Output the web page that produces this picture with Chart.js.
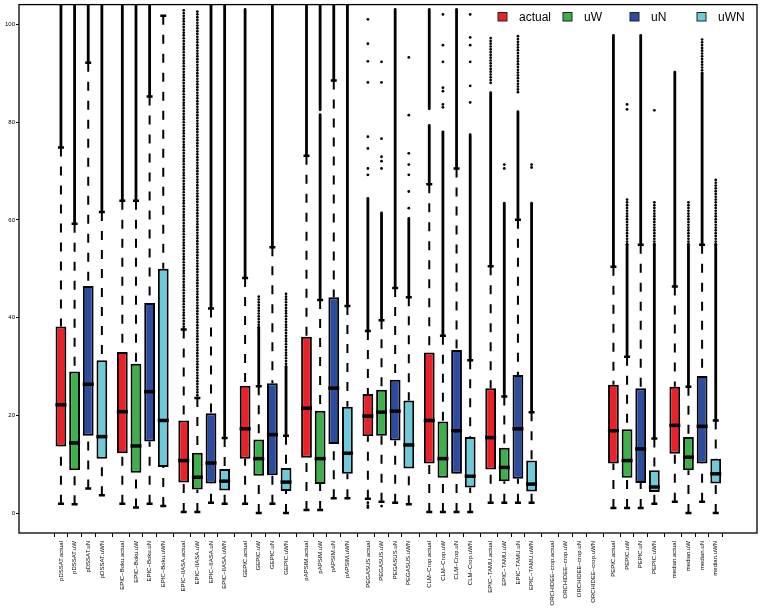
<!DOCTYPE html>
<html>
<head>
<meta charset="utf-8">
<script src="https://cdn.jsdelivr.net/npm/chart.js@4/dist/chart.umd.min.js"></script>
<style>
  html, body { margin: 0; padding: 0; background: #fff; }
  #wrap { width: 760px; height: 611px; position: relative; }
</style>
</head>
<body>
<div id="wrap"><canvas id="boxChart"></canvas></div>
<script>
// model groups and the four series
const groups = ['pDSSAT', 'EPIC\u2212Boku', 'EPIC\u2212IIASA', 'GEPIC', 'pAPSIM', 'PEGASUS',
  'CLM\u2212Crop', 'EPIC\u2212TAMU', 'ORCHIDEE\u2212crop', 'PEPIC', 'median'];
const seriesNames = ['actual', 'uW', 'uN', 'uWN'];
const seriesColors = ['#ec2027', '#3cb04a', '#2c4c9f', '#6ccadb'];
const yTicks = [0, 20, 40, 60, 80, 100];

// [lower whisker, q1, median, q3, upper whisker]
const actualBox = [[2.0, 13.7, 22.2, 38.2, 74.8], [2.0, 12.3, 20.8, 33.0, 63.9], [0.3, 6.3, 10.8, 19.0, 37.6],
  [2.0, 11.2, 17.3, 26.1, 48.1], [0.7, 11.4, 21.5, 36.1, 73.1], [3.0, 15.8, 19.9, 24.4, 37.3],
  [0.3, 10.2, 19.0, 32.9, 67.3], [2.2, 9.0, 15.5, 25.6, 50.5], null,
  [1.1, 10.2, 16.9, 26.3, 50.4], [2.4, 12.2, 18.0, 25.9, 46.4]];
const uWBox = [[1.9, 8.8, 14.4, 29.0, 59.2], [1.2, 8.3, 13.8, 30.6, 63.9], [0.3, 4.9, 7.4, 12.4, 23.6],
  [0.1, 7.7, 11.2, 15.1, 26.0], [0.7, 6.0, 11.2, 21.0, 43.6], [2.4, 15.9, 20.7, 25.3, 39.5],
  [0.3, 7.3, 11.2, 18.8, 36.3], [2.2, 6.6, 9.4, 13.4, 23.9], null,
  [1.1, 7.3, 10.8, 17.2, 32.0], [0.1, 8.8, 11.5, 15.6, 25.9]];
const uNBox = [[5.1, 15.9, 26.4, 46.5, 92.1], [2.0, 14.7, 24.9, 43.0, 85.2], [2.2, 6.1, 10.3, 20.5, 41.9],
  [2.0, 7.8, 16.1, 26.6, 54.4], [3.1, 14.2, 25.6, 44.2, 88.5], [2.2, 14.9, 20.9, 27.3, 46.1],
  [0.3, 8.1, 16.9, 33.4, 70.5], [2.2, 7.1, 17.3, 28.3, 60.0], null,
  [1.1, 6.2, 13.2, 25.6, 54.9], [2.4, 10.2, 17.8, 28.1, 54.9]];
const uWNBox = [[3.7, 11.2, 15.7, 31.3, 61.6], [1.5, 9.5, 19.0, 50.0, 101.7], [2.0, 4.7, 6.6, 9.1, 15.4],
  [0.1, 4.6, 6.4, 9.3, 15.9], [3.1, 8.1, 12.3, 21.8, 42.4], [1.9, 9.2, 14.0, 23.1, 44.2],
  [0.3, 5.3, 7.6, 15.6, 31.3], [2.2, 4.5, 6.0, 10.8, 20.7], null,
  [2.0, 4.4, 5.4, 8.8, 15.3], [0.1, 6.1, 8.1, 11.2, 19.0]];

// outliers: packed ranges, looser ranges, single points
const actualRuns = [[[74.8, 105]], [[63.9, 105]], [], [[48.1, 103]], [[73.1, 105]], [[37.3, 64.4]],
  [[67.3, 79.3], [82.7, 103]], [[50.5, 86]], [], [[50.4, 97.7]], [[46.4, 90.2]]];
const actualSparse = [[], [], [[37.6, 103]], [], [], [], [], [[88, 97.6]], [], [], []];
const actualPts = [[], [], [], [], [], [69.2, 70.5, 74.6, 77.0, 88.1, 92.4, 96.0, 101, 2.2, 1.6, 1.2],
  [], [], [], [], []];

const uWRuns = [[[59.2, 105]], [[63.9, 105]], [], [[26.0, 38]], [[43.6, 81.5], [82.5, 105]], [[39.5, 61.4]],
  [[36.3, 78]], [[23.9, 63.4]], [], [[32, 55]], [[25.9, 55]]];
const uWSparse = [[], [], [[23.6, 103]], [[38, 44.4]], [], [], [], [], [], [[55, 64.4]], [[55, 64.1]]];
const uWPts = [[], [], [], [], [], [70.5, 72, 72.9, 76.6, 88.1, 92.3, 1.5],
  [83, 83.6, 86.3, 87, 92.3, 95.7, 102], [70.5, 71.3], [], [82.6, 83.6], []];

const uNRuns = [[[92.1, 105]], [[85.2, 105]], [[41.9, 105]], [[54.4, 105]], [[88.5, 105]], [[46.1, 103]],
  [[70.5, 103]], [[60, 82.1]], [], [[54.9, 97.7]], [[54.9, 90]]];
const uNSparse = [[], [], [], [], [], [], [], [[86.1, 97.7]], [], [], [[90, 97]]];
const uNPts = [[], [], [], [], [], [], [], [], [], [], []];

const uWNRuns = [[[61.6, 105]], [], [[15.4, 105]], [[15.9, 30]], [[42.4, 105]], [[44.2, 60.3]],
  [[31.3, 77.4]], [[20.7, 63.4]], [], [[15.3, 55]], [[19, 55]]];
const uWNSparse = [[], [], [], [[30, 45.1]], [], [], [], [], [], [[55, 64.1]], [[55, 68.5]]];
const uWNPts = [[], [], [], [], [], [62.4, 65.8, 69.2, 71.3, 73.6, 81.4, 93.2],
  [84, 87.4, 92.3, 95.7, 97.3, 102], [70.7, 71.3], [], [82.4], []];

const boxes = [actualBox, uWBox, uNBox, uWNBox];
const runs = [actualRuns, uWRuns, uNRuns, uWNRuns];
const sparse = [actualSparse, uWSparse, uNSparse, uWNSparse];
const points = [actualPts, uWPts, uNPts, uWNPts];

const posOf = (g, k) => g * 4.5 + k;
const tickPositions = [];
const tickLabels = {};
groups.forEach((g, gi) => seriesNames.forEach((s, k) => {
  tickPositions.push(posOf(gi, k));
  tickLabels[posOf(gi, k)] = g + '.' + s;
}));

const FONT = "'Liberation Sans', Arial, sans-serif";

const boxParts = {
  id: 'boxParts',
  beforeDatasetsDraw(chart) {
    const { ctx, chartArea: a, scales: { x, y } } = chart;
    ctx.save();
    ctx.beginPath();
    ctx.rect(a.left, a.top, a.right - a.left, a.bottom - a.top);
    ctx.clip();
    ctx.strokeStyle = '#000';
    ctx.fillStyle = '#000';
    boxes.forEach((list, k) => {
      list.forEach((b, g) => {
        if (!b) return;
        const px = x.getPixelForValue(posOf(g, k));
        // dashed whiskers, drawn from the cap towards the box
        ctx.lineWidth = 2;
        ctx.setLineDash([9, 10]);
        ctx.beginPath();
        ctx.moveTo(px, y.getPixelForValue(b[0]));
        ctx.lineTo(px, y.getPixelForValue(b[1]));
        ctx.moveTo(px, y.getPixelForValue(b[4]));
        ctx.lineTo(px, y.getPixelForValue(b[3]));
        ctx.stroke();
        ctx.setLineDash([]);
        // caps
        ctx.lineWidth = 2.5;
        ctx.beginPath();
        [b[0], b[4]].forEach(v => {
          const py = y.getPixelForValue(v);
          ctx.moveTo(px - 3, py);
          ctx.lineTo(px + 3, py);
        });
        ctx.stroke();
        // packed outliers
        ctx.lineWidth = 2.8;
        ctx.lineCap = 'round';
        runs[k][g].forEach(r => {
          ctx.beginPath();
          ctx.moveTo(px, y.getPixelForValue(r[0]));
          ctx.lineTo(px, y.getPixelForValue(r[1]));
          ctx.stroke();
        });
        ctx.lineCap = 'butt';
        // looser outliers
        sparse[k][g].forEach(r => {
          const p0 = y.getPixelForValue(r[0]);
          const p1 = y.getPixelForValue(r[1]);
          for (let py = p0; py >= p1; py -= 2.8) {
            ctx.beginPath();
            ctx.arc(px, py, 1.35, 0, Math.PI * 2);
            ctx.fill();
          }
        });
        points[k][g].forEach(v => {
          ctx.beginPath();
          ctx.arc(px, y.getPixelForValue(v), 1.4, 0, Math.PI * 2);
          ctx.fill();
        });
      });
    });
    ctx.restore();
  },
  afterDatasetsDraw(chart) {
    const { ctx, chartArea: a, scales: { x, y } } = chart;
    ctx.save();
    // medians
    ctx.strokeStyle = '#000';
    ctx.lineWidth = 3.5;
    boxes.forEach((list, k) => {
      list.forEach((b, g) => {
        if (!b) return;
        const px = x.getPixelForValue(posOf(g, k));
        const py = y.getPixelForValue(b[2]);
        ctx.beginPath();
        ctx.moveTo(px - 5.5, py);
        ctx.lineTo(px + 5.5, py);
        ctx.stroke();
      });
    });
    // frame
    ctx.lineWidth = 1.3;
    ctx.strokeRect(a.left, a.top, a.right - a.left, a.bottom - a.top);
    // legend
    const legendX = [498, 563, 630, 697];
    ctx.font = '12px ' + FONT;
    ctx.textBaseline = 'middle';
    seriesNames.forEach((s, k) => {
      ctx.fillStyle = seriesColors[k];
      ctx.fillRect(legendX[k], 12.5, 9, 8.5);
      ctx.lineWidth = 1;
      ctx.strokeStyle = '#222';
      ctx.strokeRect(legendX[k], 12.5, 9, 8.5);
      ctx.fillStyle = '#000';
      ctx.fillText(s, legendX[k] + 21, 17.5);
    });
    ctx.restore();
  }
};

const datasets = seriesNames.map((s, k) => ({
  label: s,
  data: boxes[k].map((b, g) => b ? { x: posOf(g, k), y: [b[1], b[3]] } : null).filter(d => d),
  backgroundColor: seriesColors[k],
  borderColor: '#000',
  borderWidth: 2,
  borderSkipped: false,
  grouped: false,
  barPercentage: 0.79,
  categoryPercentage: 1
}));

new Chart(document.getElementById('boxChart'), {
  type: 'bar',
  data: { datasets },
  options: {
    responsive: true,
    maintainAspectRatio: false,
    animation: false,
    layout: { padding: { top: 2, right: 3, left: 0, bottom: 0 } },
    plugins: { legend: { display: false }, tooltip: { enabled: false } },
    scales: {
      x: {
        type: 'linear',
        min: -2.46,
        max: 50.41,
        afterBuildTicks: scale => { scale.ticks = tickPositions.map(v => ({ value: v })); },
        afterFit: scale => { scale.height = 78; },
        border: { display: false },
        grid: { drawOnChartArea: false, color: '#000', tickColor: '#000', tickLength: 4, lineWidth: 1 },
        ticks: {
          autoSkip: false,
          minRotation: 90,
          maxRotation: 90,
          padding: 4,
          color: '#000',
          font: { family: FONT, size: 6 },
          callback: v => tickLabels[v] || ''
        }
      },
      y: {
        min: -4,
        max: 104,
        afterBuildTicks: scale => { scale.ticks = yTicks.map(v => ({ value: v })); },
        afterFit: scale => { scale.width = 19; },
        border: { display: false },
        grid: { drawOnChartArea: false, color: '#000', tickColor: '#000', tickLength: 3, lineWidth: 1 },
        ticks: { padding: 1, color: '#000', font: { family: FONT, size: 6 } }
      }
    }
  },
  plugins: [boxParts]
});
</script>
</body>
</html>
